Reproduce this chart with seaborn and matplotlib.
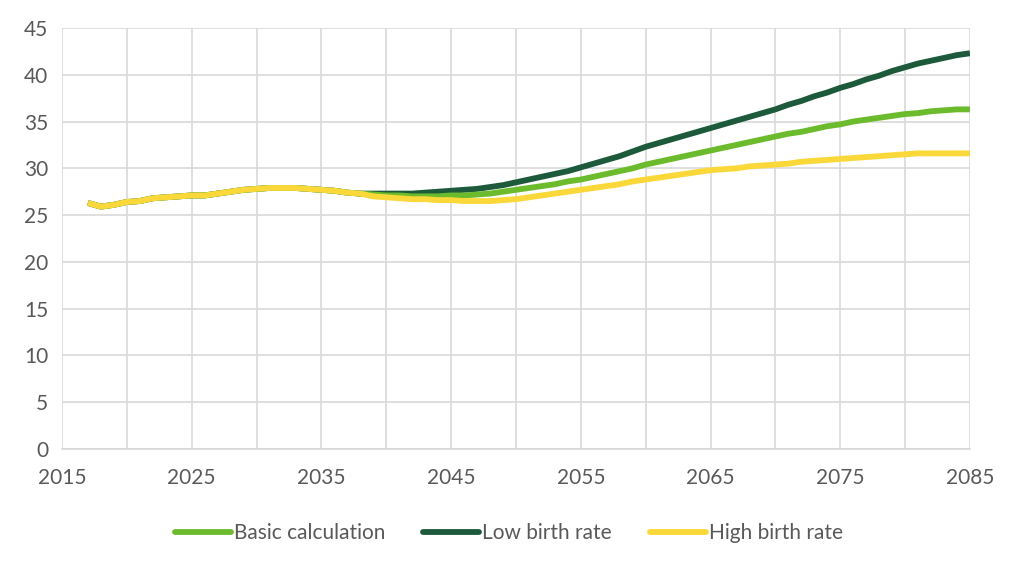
import numpy as np
import pandas as pd
import matplotlib
matplotlib.use("Agg")
import matplotlib.pyplot as plt
import seaborn as sns
from matplotlib.lines import Line2D

years = list(range(2017, 2086))

common = [26.3, 25.9, 26.1, 26.4, 26.5, 26.8, 26.9, 27.0, 27.1, 27.1, 27.3,
          27.5, 27.7, 27.8, 27.9, 27.9, 27.9, 27.8, 27.7, 27.6, 27.4, 27.3]

low_tail = [27.3, 27.3, 27.3, 27.3, 27.4, 27.5, 27.6, 27.7, 27.8, 28.0, 28.2,
            28.5, 28.8, 29.1, 29.4, 29.7, 30.1, 30.5, 30.9, 31.3, 31.8, 32.3,
            32.7, 33.1, 33.5, 33.9, 34.3, 34.7, 35.1, 35.5, 35.9, 36.3, 36.8,
            37.2, 37.7, 38.1, 38.6, 39.0, 39.5, 39.9, 40.4, 40.8, 41.2, 41.5,
            41.8, 42.1, 42.3]

basic_tail = [27.2, 27.1, 27.1, 27.0, 27.0, 27.0, 27.1, 27.1, 27.2, 27.3, 27.5,
              27.7, 27.9, 28.1, 28.3, 28.6, 28.8, 29.1, 29.4, 29.7, 30.0, 30.4,
              30.7, 31.0, 31.3, 31.6, 31.9, 32.2, 32.5, 32.8, 33.1, 33.4, 33.7,
              33.9, 34.2, 34.5, 34.7, 35.0, 35.2, 35.4, 35.6, 35.8, 35.9, 36.1,
              36.2, 36.3, 36.3]

high_tail = [27.0, 26.9, 26.8, 26.7, 26.7, 26.6, 26.6, 26.5, 26.5, 26.5, 26.6,
             26.7, 26.9, 27.1, 27.3, 27.5, 27.7, 27.9, 28.1, 28.3, 28.6, 28.8,
             29.0, 29.2, 29.4, 29.6, 29.8, 29.9, 30.0, 30.2, 30.3, 30.4, 30.5,
             30.7, 30.8, 30.9, 31.0, 31.1, 31.2, 31.3, 31.4, 31.5, 31.6, 31.6,
             31.6, 31.6, 31.6]

basic = common + basic_tail
low = common + low_tail
high = common + high_tail

series_names = ["Basic calculation", "Low birth rate", "High birth rate"]
colors = ["#6cbb2d", "#1d5a3b", "#fbd83a"]

x_tick_labels = [2015, 2025, 2035, 2045, 2055, 2065, 2075, 2085]
x_grid = list(range(2015, 2086, 5))
y_ticks = list(range(0, 46, 5))

df = pd.concat([
    pd.DataFrame({"year": years, "value": v, "series": n})
    for n, v in zip(series_names, [basic, low, high])
])

sns.set_theme(style="white")
plt.rcParams["font.family"] = ["Lato", "DejaVu Sans"]

fig = plt.figure(figsize=(10.24, 5.71), dpi=100)
ax = fig.add_axes([0.0605, 0.2137, 0.8867, 0.7373])

pal = dict(zip(series_names, colors))
sns.lineplot(data=df, x="year", y="value", hue="series", hue_order=series_names,
             palette=pal, linewidth=4.2, ax=ax, legend=False)
zorders = {"Low birth rate": 2, "Basic calculation": 3, "High birth rate": 4}
for line, name in zip(ax.lines, series_names):
    line.set_zorder(zorders[name])
    line.set_solid_capstyle("butt")

ax.set_xlim(2015, 2085)
ax.set_ylim(0, 45)
ax.set_xticks(x_tick_labels)
ax.set_xticks(x_grid, minor=True)
ax.set_yticks(y_ticks)
ax.grid(True, which="both", color="#d9d9d9", linewidth=1.2)
ax.set_axisbelow(True)
for s in ["top", "right", "left"]:
    ax.spines[s].set_visible(False)
ax.spines["bottom"].set_color("#d9d9d9")
ax.spines["bottom"].set_linewidth(1.2)
ax.tick_params(axis="both", which="both", length=0, labelsize=15, labelcolor="#595959")
ax.tick_params(axis="x", pad=14)
ax.tick_params(axis="y", pad=10)
ax.set_xlabel("")
ax.set_ylabel("")

handles = [Line2D([0], [0], color=c, linewidth=4.2) for c in colors]
leg = fig.legend(handles, series_names, loc="center", bbox_to_anchor=(0.497, 0.066),
                 ncol=3, frameon=False, fontsize=15, handlelength=2.7,
                 handletextpad=0.15, columnspacing=1.8)
for t in leg.get_texts():
    t.set_color("#595959")

fig.savefig("out.png", dpi=100)
